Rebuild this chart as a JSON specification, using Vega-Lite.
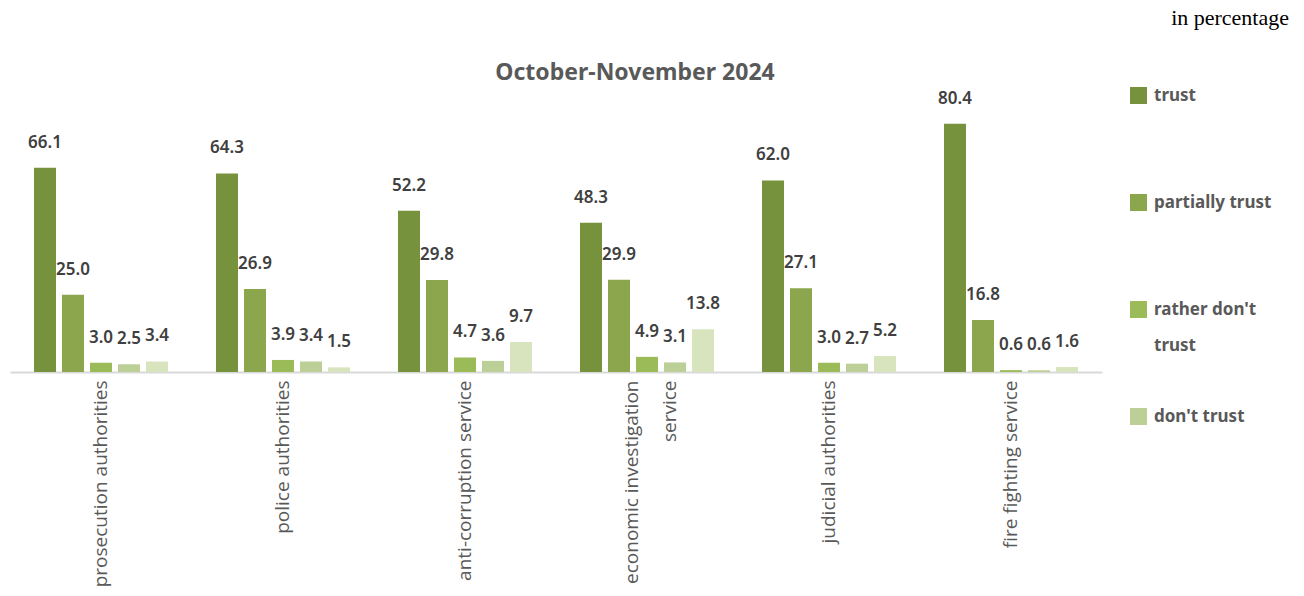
{
  "$schema": "https://vega.github.io/schema/vega-lite/v6.json",
  "padding": {"left": 10, "top": 6, "right": 0, "bottom": 0},
  "background": "white",
  "title": {"text": "in percentage", "anchor": "end", "frame": "bounds", "font": "Liberation Serif", "fontSize": 22, "fontWeight": "normal", "color": "#000000", "offset": 32, "dx": 17},
  "config": {"view": {"stroke": null}, "font": "Noto Sans"},
  "data": {"values": [
    {"agency": "prosecution authorities", "level": "trust", "value": 66.1},
    {"agency": "prosecution authorities", "level": "partially trust", "value": 25.0},
    {"agency": "prosecution authorities", "level": "rather don't trust", "value": 3.0},
    {"agency": "prosecution authorities", "level": "don't trust", "value": 2.5},
    {"agency": "prosecution authorities", "level": "difficult to answer", "value": 3.4},
    {"agency": "police authorities", "level": "trust", "value": 64.3},
    {"agency": "police authorities", "level": "partially trust", "value": 26.9},
    {"agency": "police authorities", "level": "rather don't trust", "value": 3.9},
    {"agency": "police authorities", "level": "don't trust", "value": 3.4},
    {"agency": "police authorities", "level": "difficult to answer", "value": 1.5},
    {"agency": "anti-corruption service", "level": "trust", "value": 52.2},
    {"agency": "anti-corruption service", "level": "partially trust", "value": 29.8},
    {"agency": "anti-corruption service", "level": "rather don't trust", "value": 4.7},
    {"agency": "anti-corruption service", "level": "don't trust", "value": 3.6},
    {"agency": "anti-corruption service", "level": "difficult to answer", "value": 9.7},
    {"agency": "economic investigation service", "level": "trust", "value": 48.3},
    {"agency": "economic investigation service", "level": "partially trust", "value": 29.9},
    {"agency": "economic investigation service", "level": "rather don't trust", "value": 4.9},
    {"agency": "economic investigation service", "level": "don't trust", "value": 3.1},
    {"agency": "economic investigation service", "level": "difficult to answer", "value": 13.8},
    {"agency": "judicial authorities", "level": "trust", "value": 62.0},
    {"agency": "judicial authorities", "level": "partially trust", "value": 27.1},
    {"agency": "judicial authorities", "level": "rather don't trust", "value": 3.0},
    {"agency": "judicial authorities", "level": "don't trust", "value": 2.7},
    {"agency": "judicial authorities", "level": "difficult to answer", "value": 5.2},
    {"agency": "fire fighting service", "level": "trust", "value": 80.4},
    {"agency": "fire fighting service", "level": "partially trust", "value": 16.8},
    {"agency": "fire fighting service", "level": "rather don't trust", "value": 0.6},
    {"agency": "fire fighting service", "level": "don't trust", "value": 0.6},
    {"agency": "fire fighting service", "level": "difficult to answer", "value": 1.6}
  ]},
  "vconcat": [{
    "width": 1092,
    "height": 278,
    "title": {"text": "October-November 2024", "fontSize": 23, "fontWeight": "bold", "color": "#595959", "font": "Noto Sans", "dx": 79, "offset": 5},
    "encoding": {
      "x": {"field": "agency", "type": "nominal",
        "sort": ["prosecution authorities", "police authorities", "anti-corruption service", "economic investigation service", "judicial authorities", "fire fighting service"],
        "scale": {"paddingInner": 0, "paddingOuter": 0},
        "axis": {"title": null, "labelAngle": -90, "labelFont": "Open Sans", "labelFontSize": 19, "labelColor": "#595959", "ticks": false, "domainColor": "#D9D9D9", "domainWidth": 2, "labelPadding": 8, "labelLimit": 0, "labelLineHeight": 38,
          "labelOffset": {"condition": {"test": "datum.value == 'economic investigation service'", "value": -15}, "value": 0},
          "labelExpr": "datum.value == 'economic investigation service' ? ['economic investigation', 'service'] : datum.label"}},
      "xOffset": {"field": "level", "type": "nominal",
        "sort": ["trust", "partially trust", "rather don't trust", "don't trust", "difficult to answer"],
        "scale": {"paddingInner": 0.214, "paddingOuter": 0.857}},
      "y": {"field": "value", "type": "quantitative", "scale": {"domain": [0, 90]}, "axis": null}
    },
    "layer": [
      {"mark": {"type": "bar"},
       "encoding": {
         "color": {"field": "level", "type": "nominal",
           "scale": {"domain": ["trust", "partially trust", "rather don't trust", "don't trust", "difficult to answer"], "range": ["#76923C", "#8BA64C", "#9BBB59", "#BBCF96", "#D7E4BD"]},
           "legend": {"orient": "none", "legendX": 1120, "legendY": -7, "title": null,
             "values": ["trust", "partially trust", "rather don't trust", "don't trust"],
             "symbolType": "square", "symbolSize": 289, "symbolStrokeWidth": 0, "symbolOpacity": 1,
             "labelFontSize": 17, "labelFontWeight": "bold", "labelColor": "#595959", "labelOffset": 7, "labelLimit": 0,
             "labelBaseline": "middle", "rowPadding": 53,
             "labelExpr": "datum.label == \"rather don't trust\" ? [\"rather don't\", 'trust'] : [datum.label, ' ']",
             "encode": {"labels": {"update": {"lineHeight": {"value": 36}}}}}}
       }},
      {"mark": {"type": "text", "dy": -25, "baseline": "middle", "fontSize": 17, "fontWeight": 600, "color": "#404040"},
       "encoding": {"text": {"field": "value", "type": "quantitative", "format": ".1f"}}}
    ]
  }]
}
